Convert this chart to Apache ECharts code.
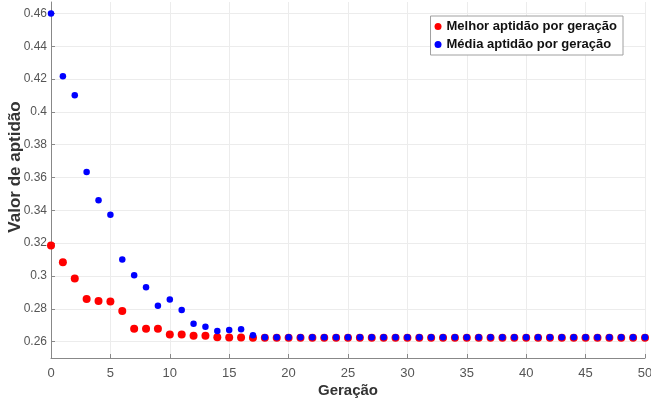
<!DOCTYPE html>
<html lang="pt" style="height: 100%">
<head>
  <meta charset="utf-8">
</head>
<body style="height: 100%; margin: 0; background: #fff">
  <div id="container" style="width: 651px; height: 401px"></div>

  <script type="text/javascript" src="https://cdn.jsdelivr.net/npm/echarts@6/dist/echarts.min.js"></script>

  <script type="text/javascript">
    // gerações 0..50
    var geracoes = [];
    for (var g = 0; g <= 50; g++) geracoes.push(g);

    var melhor = [
      0.3186, 0.3083, 0.2985, 0.2859, 0.2847, 0.2845, 0.2786, 0.2678, 0.2678, 0.2678,
      0.2644, 0.2644, 0.2635, 0.2635, 0.2626, 0.2625, 0.2625, 0.2624, 0.2624, 0.2624,
      0.2624, 0.2624, 0.2624, 0.2624, 0.2624, 0.2624, 0.2624, 0.2624, 0.2624, 0.2624,
      0.2624, 0.2624, 0.2624, 0.2624, 0.2624, 0.2624, 0.2624, 0.2624, 0.2624, 0.2624,
      0.2624, 0.2624, 0.2624, 0.2624, 0.2624, 0.2624, 0.2624, 0.2624, 0.2624, 0.2624,
      0.2624
    ];
    var media = [
      0.4600, 0.4217, 0.4101, 0.3634, 0.3461, 0.3373, 0.3101, 0.3005, 0.2932, 0.2818,
      0.2857, 0.2792, 0.2709, 0.2690, 0.2664, 0.2670, 0.2676, 0.2638, 0.2626, 0.2626,
      0.2626, 0.2626, 0.2626, 0.2626, 0.2626, 0.2626, 0.2626, 0.2626, 0.2626, 0.2626,
      0.2626, 0.2626, 0.2626, 0.2626, 0.2626, 0.2626, 0.2626, 0.2626, 0.2626, 0.2626,
      0.2626, 0.2626, 0.2626, 0.2626, 0.2626, 0.2626, 0.2626, 0.2626, 0.2626, 0.2626,
      0.2626
    ];
    var yTicks = [0.26, 0.28, 0.3, 0.32, 0.34, 0.36, 0.38, 0.4, 0.42, 0.44, 0.46];

    var fonte = '"Liberation Sans", Arial, sans-serif';

    var dom = document.getElementById('container');
    var myChart = echarts.init(dom, null, { renderer: 'canvas' });

    var option = {
      animation: false,
      grid: { left: 51, right: 6, top: 2, bottom: 43, containLabel: false, outerBoundsMode: 'none' },
      legend: {
        right: 28,
        top: 16,
        orient: 'vertical',
        itemWidth: 7,
        itemHeight: 7,
        itemGap: 5,
        padding: [4, 6, 4, 4],
        backgroundColor: '#fff',
        borderColor: '#a0a0a0',
        borderWidth: 1,
        borderRadius: 0,
        textStyle: { fontFamily: fonte, fontSize: 13, fontWeight: 'bold', color: '#111' },
        data: [
          { name: 'Melhor aptidão por geração', icon: 'circle' },
          { name: 'Média aptidão por geração', icon: 'circle' }
        ]
      },
      xAxis: {
        type: 'value',
        min: 0,
        max: 50,
        interval: 5,
        name: 'Geração',
        nameLocation: 'middle',
        nameGap: 25,
        nameMoveOverlap: false,
        nameTextStyle: { fontFamily: fonte, fontSize: 15, fontWeight: 'bold', color: '#333' },
        axisLine: { show: true, onZero: false, lineStyle: { color: '#888', width: 1 } },
        axisTick: { show: true, inside: true, length: 4, lineStyle: { color: '#888' } },
        axisLabel: { fontFamily: fonte, fontSize: 13, color: '#555', margin: 9 },
        splitLine: { show: true, lineStyle: { color: '#ececec', width: 1 } }
      },
      yAxis: {
        type: 'value',
        min: 0.25,
        max: 0.467,
        name: 'Valor de aptidão',
        nameLocation: 'middle',
        nameGap: 27,
        nameMoveOverlap: false,
        nameTextStyle: {
          fontFamily: fonte, fontSize: 17, fontWeight: 'bold', color: '#333',
          padding: [0, 0, 0, 26]
        },
        axisLine: { show: true, onZero: false, lineStyle: { color: '#888', width: 1 } },
        axisTick: { show: true, inside: true, length: 4, customValues: yTicks, lineStyle: { color: '#888' } },
        axisLabel: {
          fontFamily: fonte, fontSize: 12, color: '#555', margin: 4,
          customValues: yTicks,
          formatter: function (v) { return String(Number(v.toFixed(2))); }
        },
        splitLine: { show: true, lineStyle: { color: '#ececec', width: 1 } }
      },
      series: [
        {
          name: 'Melhor aptidão por geração',
          type: 'scatter',
          symbolSize: 8,
          itemStyle: { color: '#ff0000', opacity: 1 },
          data: geracoes.map(function (x, i) { return [x, melhor[i]]; }),
          z: 2
        },
        {
          name: 'Média aptidão por geração',
          type: 'scatter',
          symbolSize: 6.5,
          itemStyle: { color: '#0000ff', opacity: 1 },
          data: geracoes.map(function (x, i) { return [x, media[i]]; }),
          z: 3
        }
      ]
    };

    myChart.setOption(option);
    window.addEventListener('resize', myChart.resize);
  </script>
</body>
</html>
